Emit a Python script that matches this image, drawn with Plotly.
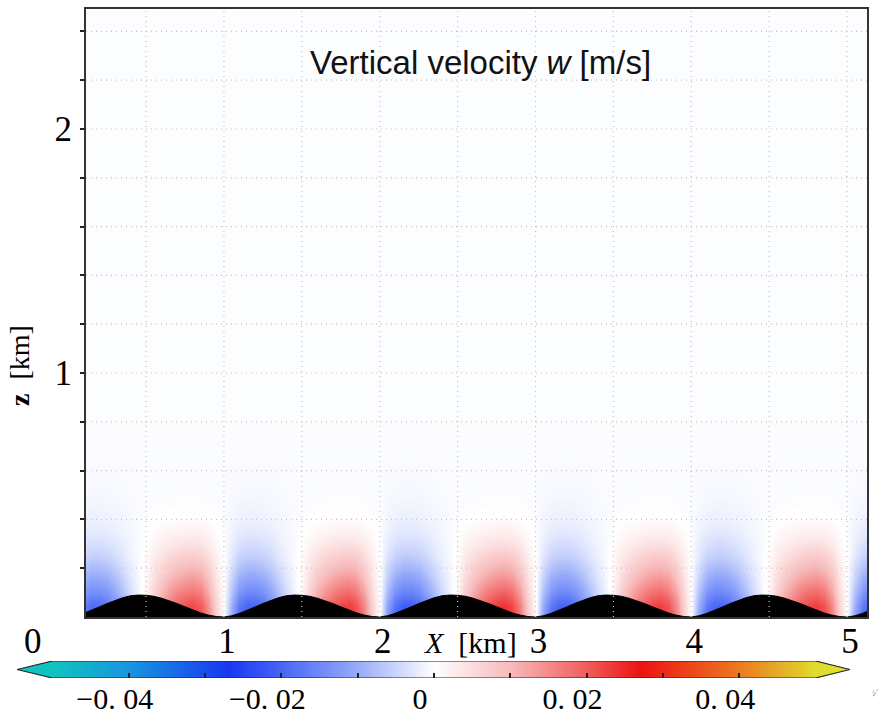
import plotly.graph_objects as go

# ---------------- data ----------------
# one terrain period (trough at offset 0, crest near 0.47 km), km
period_offsets = [0.00, 0.05, 0.10, 0.15, 0.20, 0.25, 0.30, 0.35, 0.40, 0.45,
                  0.50, 0.55, 0.60, 0.65, 0.70, 0.75, 0.80, 0.85, 0.90, 0.95]
terrain_height = [0.000, 0.005, 0.015, 0.027, 0.041, 0.055, 0.068, 0.079, 0.087, 0.090,
                  0.089, 0.085, 0.077, 0.067, 0.055, 0.042, 0.029, 0.017, 0.008, 0.002]
# near-surface vertical velocity across one period, m/s
w_surface = [0.000, -0.011, -0.019, -0.022, -0.022, -0.020, -0.016, -0.011, -0.006, -0.002,
             0.002, 0.009, 0.014, 0.018, 0.021, 0.023, 0.024, 0.022, 0.016, 0.007]
# relative strength of each hill's pattern (5 hills + start of the 6th)
hill_amp = [0.95, 1.00, 1.05, 1.00, 1.00, 1.00]
hill_start = [0, 1, 2, 3, 4, 5]

# height levels (km) and how the signal fades with height
z_levels = [0.00, 0.05, 0.10, 0.15, 0.20, 0.25, 0.30, 0.35, 0.40, 0.45, 0.50,
            0.60, 0.80, 1.20, 1.80, 2.50]
decay_neg = [1.00, 0.90, 0.70, 0.53, 0.39, 0.27, 0.18, 0.11, 0.065, 0.04, 0.022,
             0.008, 0.0, 0.0, 0.0, 0.0]
decay_pos = [1.00, 0.95, 0.78, 0.60, 0.45, 0.32, 0.20, 0.11, 0.04, 0.012, 0.003,
             0.0, 0.0, 0.0, 0.0, 0.0]
w_background = [0.0, 0.0, 0.0, 0.0, 0.0, 0.0, -0.0002, -0.0003, -0.0004, -0.0004, -0.0004,
                -0.0004, -0.0003, -0.0003, -0.0003, -0.0003]

x_tick_vals = [1, 2, 3, 4, 5]
x_tick_text = ["1", "2", "3", "4", "5"]
z_tick_vals = [0.2, 0.4, 0.6, 0.8, 1.0, 1.2, 1.4, 1.6, 1.8, 2.0, 2.2, 2.4]
z_tick_text = ["", "", "", "", "1", "", "", "", "", "2", "", ""]
x_grid = [0.5, 1.0, 1.5, 2.0, 2.5, 3.0, 3.5, 4.0, 4.5, 5.0]
z_grid = [0.2, 0.4, 0.6, 0.8, 1.0, 1.2, 1.4, 1.6, 1.8, 2.0, 2.2, 2.4]

c_min, c_max = -0.05, 0.05
cbar_tick_vals = [-0.04, -0.03, -0.02, -0.01, 0.0, 0.01, 0.02, 0.03, 0.04]
cbar_tick_text = ["\u22120. 04", "", "\u22120. 02", "", "0", "", "0. 02", "", "0. 04"]
cbar_steps = 200

colorscale = [
    [0.00, "rgb(15,195,190)"],
    [0.10, "rgb(25,150,222)"],
    [0.23, "rgb(25,55,242)"],
    [0.30, "rgb(72,102,246)"],
    [0.40, "rgb(152,172,250)"],
    [0.50, "rgb(255,255,255)"],
    [0.60, "rgb(248,186,186)"],
    [0.70, "rgb(241,92,92)"],
    [0.77, "rgb(238,18,18)"],
    [0.90, "rgb(235,122,35)"],
    [1.00, "rgb(225,220,45)"],
]

# ---------------- build tables ----------------
x_cells, x_terr, h_terr = [], [], []
for k, amp in zip(hill_start, hill_amp):
    for off, h in zip(period_offsets, terrain_height):
        x_cells.append(k + off)
        x_terr.append(k + off)
        h_terr.append(h)

field = []
for dn, dp, bg in zip(decay_neg, decay_pos, w_background):
    row = []
    for k, amp in zip(hill_start, hill_amp):
        for w in w_surface:
            d = dn if w < 0 else dp
            row.append(amp * w * d + bg)
    field.append(row)

cbar_x = [c_min + (c_max - c_min) * i / cbar_steps for i in range(cbar_steps + 1)]

# ---------------- figure ----------------
W, H = 886, 714
px_l, px_r, px_t, px_b = 86, 867, 9, 617
km_px = 155.8
x0_px = 68.1
x_range = [(px_l - x0_px) / km_px, (px_r - x0_px) / km_px]
z_range = [0, (px_b - px_t) / 244.0]

fig = go.Figure()
fig.add_trace(go.Heatmap(x=x_cells, y=z_levels, z=field, coloraxis="coloraxis",
                         zsmooth="best", hoverinfo="skip"))
fig.add_trace(go.Scatter(x=x_terr, y=h_terr, mode="lines", fill="tozeroy",
                         fillcolor="black", line=dict(color="black", width=1),
                         hoverinfo="skip", showlegend=False))
# colour bar drawn as its own strip
fig.add_trace(go.Heatmap(x=cbar_x, y=[0.5], z=[cbar_x], coloraxis="coloraxis",
                         xaxis="x2", yaxis="y2", zsmooth="best", hoverinfo="skip"))

serif = "Liberation Serif, Times New Roman, serif"

# colour bar pixel geometry
cb_px_zero, cb_px_per = 434.0, 7630.0
tip_l = (17 - cb_px_zero) / cb_px_per
tip_r = (850 - cb_px_zero) / cb_px_per

fig.update_layout(
    width=W, height=H, autosize=False,
    margin=dict(l=0, r=0, t=0, b=0),
    paper_bgcolor="white", plot_bgcolor="white",
    showlegend=False,
    coloraxis=dict(colorscale=colorscale, cmin=c_min, cmax=c_max, showscale=False),
    xaxis=dict(domain=[px_l / W, px_r / W], range=x_range, tickvals=x_tick_vals,
               ticktext=x_tick_text, ticks="", showgrid=False, zeroline=False,
               showline=True, mirror=True, linecolor="#333", linewidth=2,
               tickfont=dict(family=serif, size=35, color="black"),
               ticklabelshift=3, ticklabelstandoff=-8),
    yaxis=dict(domain=[(H - px_b) / H, (H - px_t) / H], range=z_range,
               tickvals=z_tick_vals, ticktext=z_tick_text, ticks="outside",
               ticklen=4, tickwidth=2, tickcolor="#222", showgrid=False,
               zeroline=False, showline=True, mirror=True, linecolor="#333",
               linewidth=2, tickfont=dict(family=serif, size=35, color="black"),
               ticklabelstandoff=1),
    xaxis2=dict(domain=[17 / W, 850 / W], range=[tip_l, tip_r], anchor="y2",
                tickvals=cbar_tick_vals, ticktext=cbar_tick_text, ticks="inside",
                ticklen=5, tickwidth=1.5, tickcolor="#222", showgrid=False,
                zeroline=False, showline=False,
                tickfont=dict(family=serif, size=30, color="black"),
                ticklabelshift=-14, ticklabelstandoff=0),
    yaxis2=dict(domain=[(H - 678) / H, (H - 661) / H], range=[0, 1], anchor="x2",
                visible=False),
)

shapes = []
for gx in x_grid:
    shapes.append(dict(type="line", xref="x", yref="y domain", x0=gx, x1=gx, y0=0, y1=1,
                       line=dict(color="#c4c4c4", width=1.2, dash="1px,4px"), layer="above"))
for gz in z_grid:
    shapes.append(dict(type="line", xref="x domain", yref="y", x0=0, x1=1, y0=gz, y1=gz,
                       line=dict(color="#c4c4c4", width=1.2, dash="1px,4px"), layer="above"))
# colour bar end arrows
shapes.append(dict(type="path", xref="x2", yref="y2",
                   path=f"M {c_min} 0 L {c_min} 1 L {tip_l} 0.5 Z",
                   fillcolor=colorscale[0][1], line=dict(width=0), layer="above"))
shapes.append(dict(type="path", xref="x2", yref="y2",
                   path=f"M {c_max} 0 L {c_max} 1 L {tip_r} 0.5 Z",
                   fillcolor=colorscale[-1][1], line=dict(width=0), layer="above"))
shapes.append(dict(type="path", xref="x2", yref="y2",
                   path=(f"M {tip_l} 0.5 L {c_min} 1 L {c_max} 1 L {tip_r} 0.5 "
                         f"L {c_max} 0 L {c_min} 0 Z"),
                   line=dict(color="#222", width=1.2), fillcolor="rgba(0,0,0,0)",
                   layer="above"))
fig.update_layout(shapes=shapes)

annotations = [
    dict(text="Vertical velocity <i>w</i> [m/s]", x=480 / W, y=(H - 62) / H,
         xref="paper", yref="paper", showarrow=False, xanchor="center", yanchor="middle",
         font=dict(family="Liberation Sans, Arial, sans-serif", size=33, color="#111")),
    dict(text="<i>X</i>  [km]", x=470 / W, y=(H - 642) / H, xref="paper", yref="paper",
         showarrow=False, xanchor="center", yanchor="middle",
         font=dict(family=serif, size=30, color="black")),
    dict(text="<b>z</b>  [km]", x=20 / W, y=(H - 366) / H, xref="paper", yref="paper",
         showarrow=False, textangle=-90, xanchor="center", yanchor="middle",
         font=dict(family=serif, size=28, color="black")),
    dict(text="0", x=33 / W, y=(H - 641) / H, xref="paper", yref="paper",
         showarrow=False, xanchor="center", yanchor="middle",
         font=dict(family=serif, size=35, color="black")),
    dict(text="ｼﾞ", x=876 / W, y=(H - 692) / H, xref="paper", yref="paper",
         showarrow=False, xanchor="center", yanchor="middle",
         font=dict(family="Noto Sans CJK JP", size=8, color="#888")),
]
fig.update_layout(annotations=annotations)

fig.write_html("out.html", config={"displayModeBar": False},
               post_script="document.body.style.margin='0';")
